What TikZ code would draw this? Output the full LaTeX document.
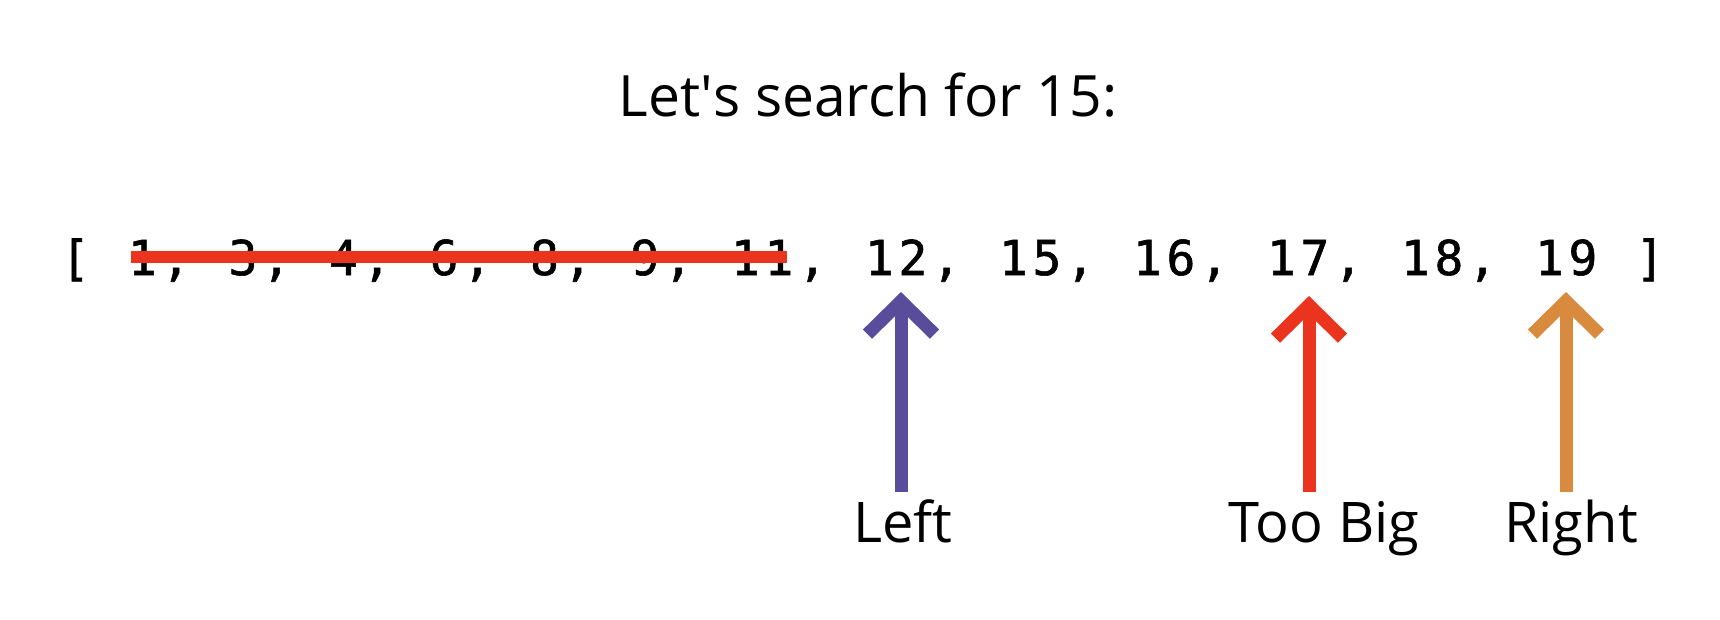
\documentclass[tikz,border=0pt]{standalone}
\usepackage{fontspec}
\setmainfont{Open Sans}
\newfontfamily\arrayfont[LetterSpace=9.6, FakeBold=1.2]{DejaVu Sans Mono}
\usetikzlibrary{arrows.meta}

\definecolor{leftcol}{RGB}{89,76,154}
\definecolor{bigcol}{RGB}{234,52,30}
\definecolor{rightcol}{RGB}{216,138,62}

\begin{document}
\begin{tikzpicture}[x=1pt, y=-1pt]

\tikzset{cell/.style = {anchor=base west, inner sep=0, font=\arrayfont\fontsize{48}{58}\selectfont}}
\tikzset{tag/.style = {anchor=base, inner sep=0, outer sep=8pt, text height=42pt, font=\fontsize{56}{67}\selectfont}}
\tikzset{pointer/.style = {line width=13pt, -{Straight Barb[sharp, length=33pt, width=67pt]}}}
\tikzset{strike/.style = {line width=12pt, draw=bigcol}}

\useasboundingbox (0,0) rectangle (1720,620);
%title
\node[anchor=base, inner sep=0, font=\fontsize{57}{68}\selectfont] (title) at (868,117) {Let\textquotesingle s search for 15:};
%array
\foreach \i/\t/\n in {0/{[}/lb, 2/{1,}/n1, 5/{3,}/n3, 8/{4,}/n4, 11/{6,}/n6, 14/{8,}/n8, 17/{9,}/n9, 20/{11,}/n11, 24/{12,}/n12, 28/{15,}/n15, 32/{16,}/n16, 36/{17,}/n17, 40/{18,}/n18, 44/{19}/n19, 47/{]}/rb}
  \node[cell] (\n) at (60.8+\i*33.5,275) {\t};
\coordinate (st1) at (130.5,257);
\coordinate (st2) at (787,257);
\draw[strike] (st1) -- (st2);
%labels
\node[tag] (lft) at (903,542) {Left};
\node[tag] (big) at (1324,542) {Too Big};
\node[tag] (rgt) at (1571,542) {Right};
%arrows
\coordinate (p12) at (901,292);
\coordinate (p17) at (1309,296);
\coordinate (p19) at (1566,292);
\draw[pointer, leftcol] (p12 |- lft.north) -- (p12);
\draw[pointer, bigcol] (p17 |- big.north) -- (p17);
\draw[pointer, rightcol] (p19 |- rgt.north) -- (p19);

\end{tikzpicture}
\end{document}
